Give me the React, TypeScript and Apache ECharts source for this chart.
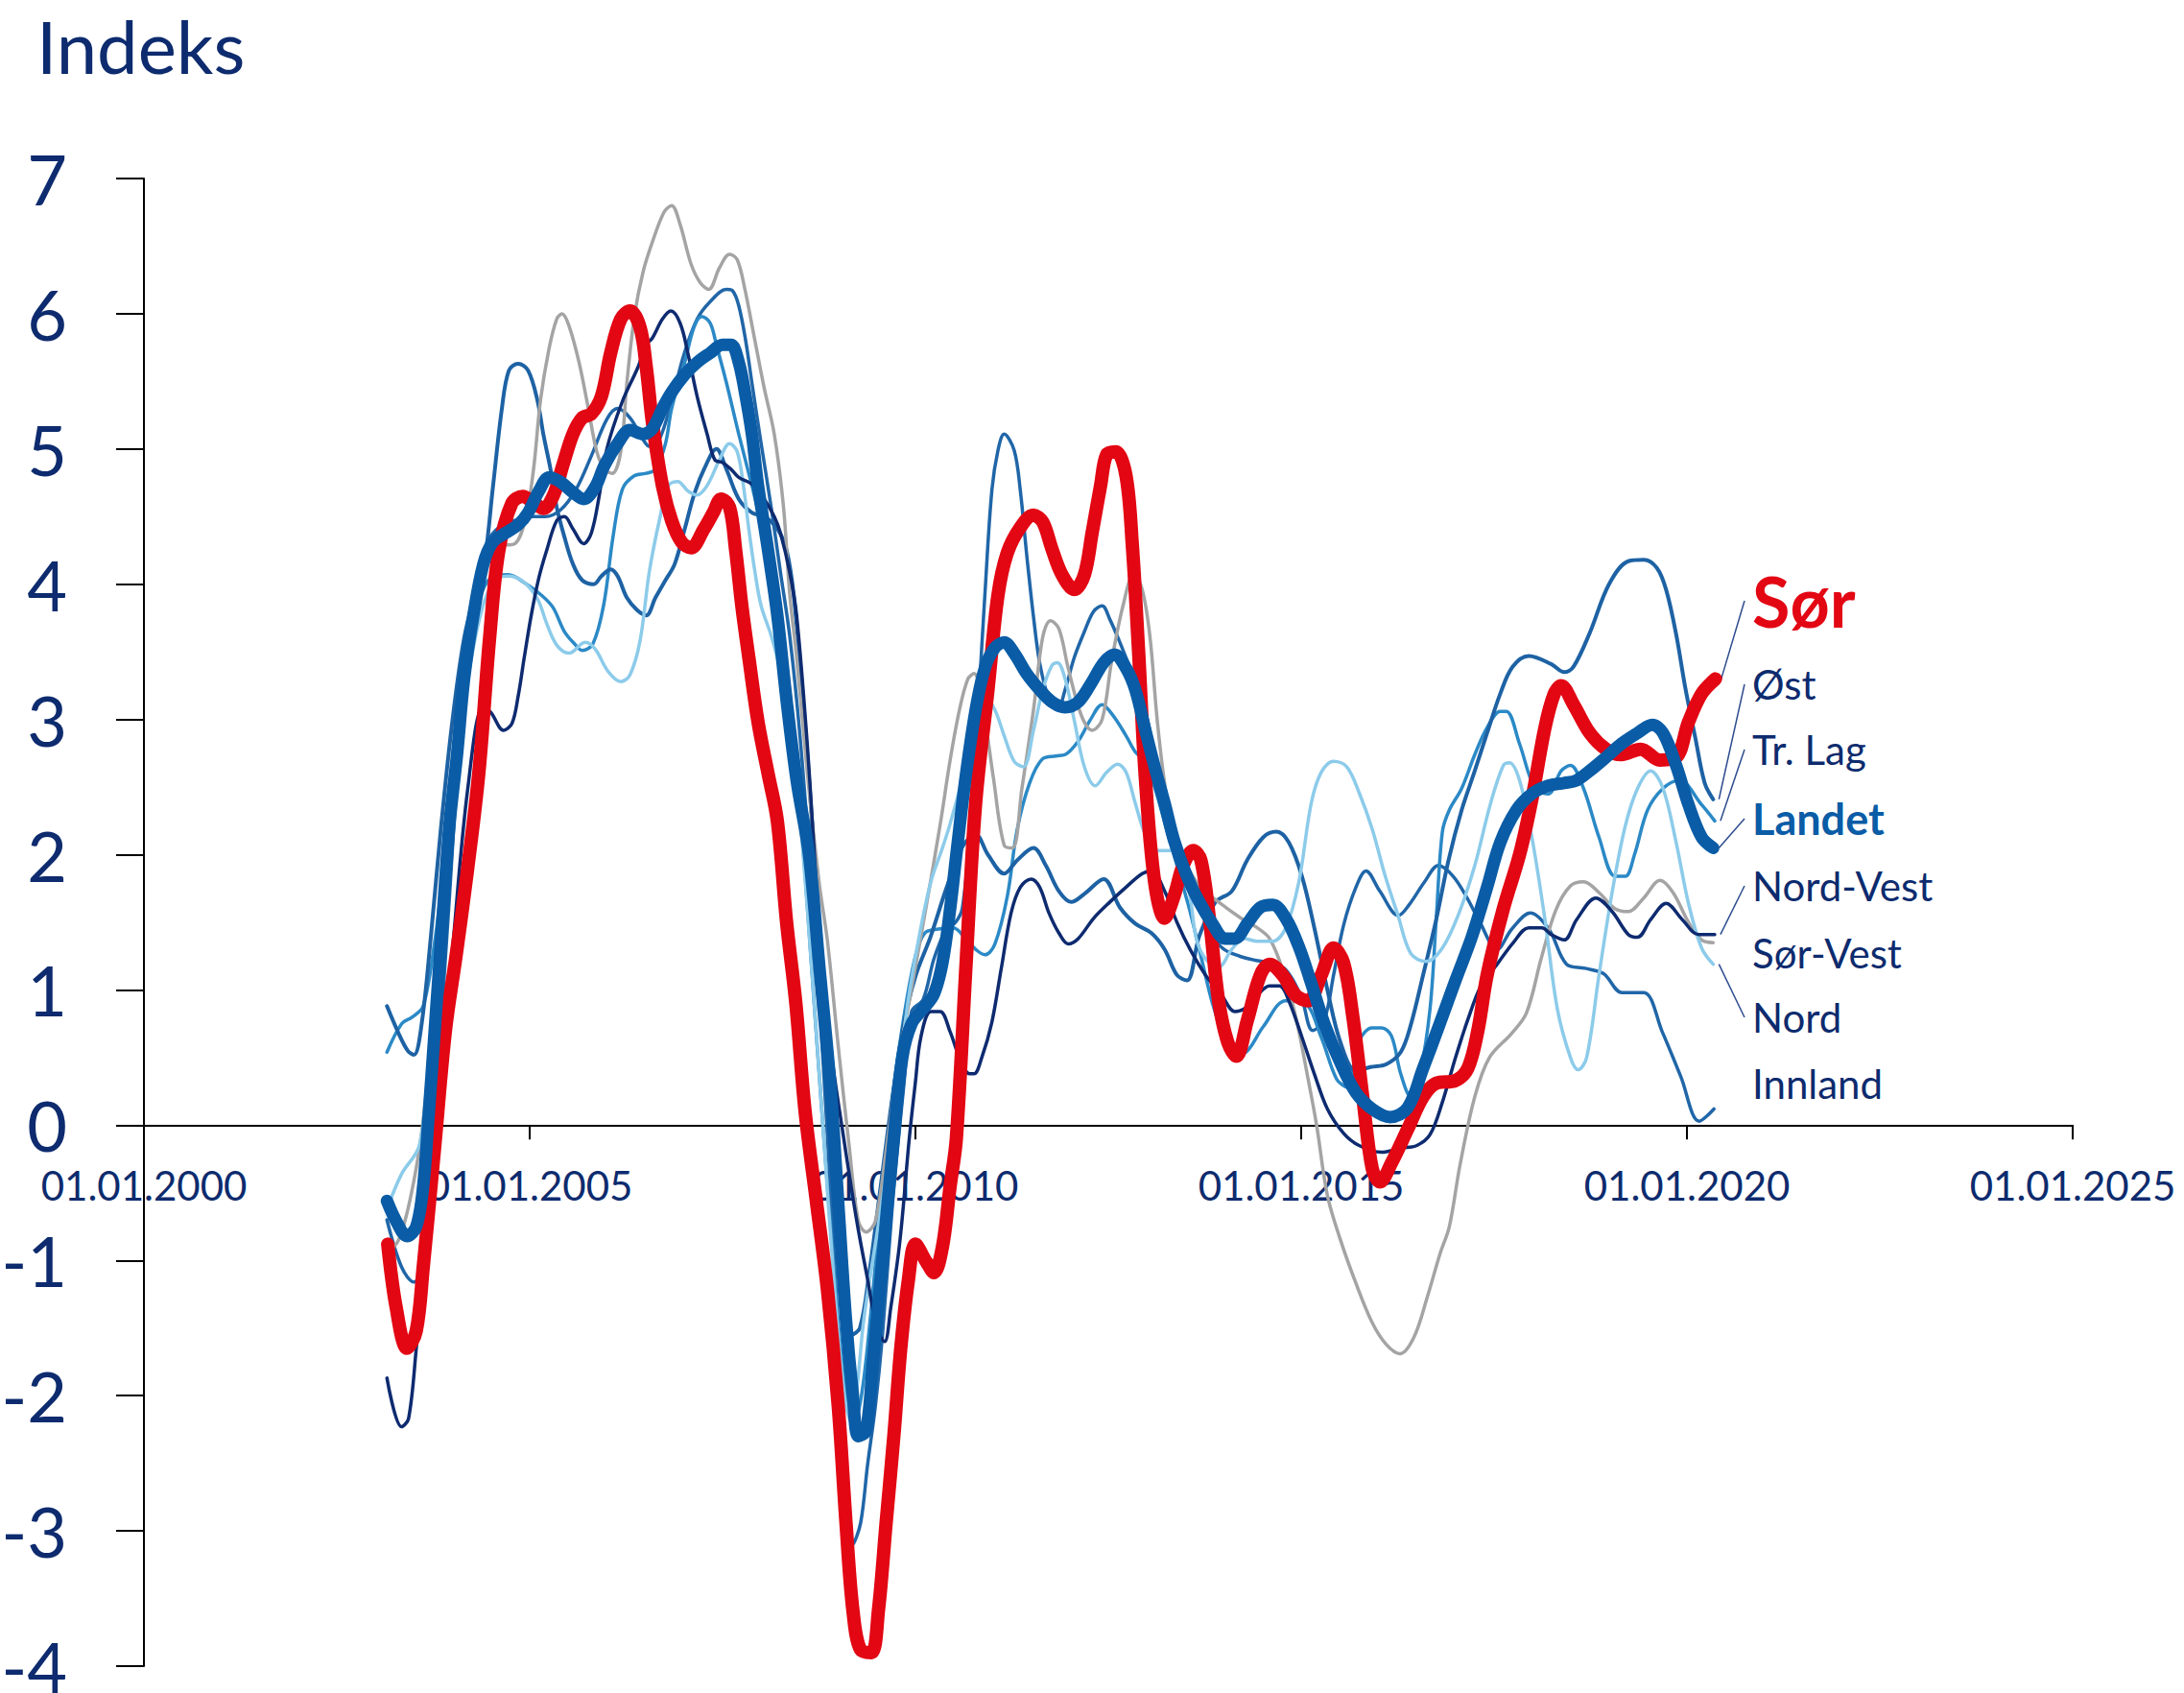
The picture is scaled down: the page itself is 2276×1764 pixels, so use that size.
import React, { useEffect, useRef } from 'react';
import * as echarts from 'echarts';

// ---------- DATA (year as decimal, index value) ----------
const sorData: [number, number][] = [
  [2003.16,-0.88],[2003.27,-1.35],[2003.41,-1.65],[2003.53,-1.52],[2003.62,-1.05],[2003.77,-0.15],[2003.91,0.71],[2004.05,1.27],[2004.19,1.87],[2004.34,2.6],[2004.48,3.6],[2004.6,4.25],[2004.77,4.6],[2004.91,4.65],[2005.06,4.6],[2005.18,4.56],[2005.31,4.66],[2005.43,4.88],[2005.56,5.11],[2005.68,5.23],[2005.8,5.26],[2005.93,5.39],[2006.05,5.71],[2006.18,5.96],[2006.3,6.02],[2006.43,5.9],[2006.51,5.61],[2006.59,5.2],[2006.72,4.73],[2006.84,4.47],[2006.97,4.31],[2007.09,4.27],[2007.26,4.41],[2007.38,4.53],[2007.48,4.63],[2007.59,4.57],[2007.67,4.25],[2007.75,3.84],[2007.84,3.46],[2007.96,2.98],[2008.09,2.6],[2008.21,2.25],[2008.33,1.5],[2008.45,0.9],[2008.57,0.1],[2008.72,-0.58],[2008.86,-1.22],[2009.0,-2.08],[2009.1,-2.94],[2009.19,-3.59],[2009.29,-3.88],[2009.43,-3.9],[2009.52,-3.59],[2009.62,-2.94],[2009.72,-2.3],[2009.81,-1.65],[2009.91,-1.14],[2010.0,-0.88],[2010.14,-1.01],[2010.24,-1.09],[2010.35,-0.9],[2010.45,-0.45],[2010.53,-0.1],[2010.66,1.23],[2010.78,2.38],[2010.94,3.22],[2011.07,3.92],[2011.19,4.23],[2011.36,4.42],[2011.53,4.51],[2011.65,4.46],[2011.77,4.26],[2011.9,4.07],[2012.06,3.96],[2012.19,4.07],[2012.29,4.38],[2012.4,4.73],[2012.48,4.96],[2012.6,4.98],[2012.73,4.8],[2012.81,4.3],[2012.89,3.53],[2012.98,2.57],[2013.1,1.8],[2013.23,1.53],[2013.35,1.69],[2013.47,1.92],[2013.6,2.03],[2013.7,1.96],[2013.81,1.53],[2013.93,0.92],[2014.05,0.61],[2014.16,0.51],[2014.3,0.77],[2014.47,1.11],[2014.59,1.19],[2014.76,1.11],[2014.93,0.96],[2015.09,0.92],[2015.26,1.11],[2015.42,1.31],[2015.55,1.2],[2015.67,0.8],[2015.8,0.2],[2015.92,-0.32],[2016.02,-0.42],[2016.17,-0.28],[2016.38,-0.03],[2016.58,0.21],[2016.75,0.31],[2017.0,0.33],[2017.16,0.42],[2017.29,0.7],[2017.41,1.11],[2017.62,1.6],[2017.83,2.0],[2017.99,2.41],[2018.16,2.94],[2018.28,3.19],[2018.37,3.25],[2018.53,3.11],[2018.74,2.9],[2018.95,2.78],[2019.15,2.74],[2019.4,2.78],[2019.65,2.7],[2019.86,2.72],[2020.02,2.98],[2020.19,3.19],[2020.37,3.3]
];

const landetData: [number, number][] = [
  [2003.15,-0.56],[2003.27,-0.71],[2003.41,-0.82],[2003.53,-0.75],[2003.62,-0.45],[2003.69,0.07],[2003.77,0.71],[2003.86,1.44],[2003.96,2.22],[2004.06,2.75],[2004.15,3.3],[2004.27,3.77],[2004.4,4.15],[2004.52,4.31],[2004.69,4.38],[2004.85,4.44],[2004.98,4.53],[2005.12,4.69],[2005.25,4.79],[2005.39,4.76],[2005.56,4.68],[2005.7,4.63],[2005.85,4.72],[2005.97,4.88],[2006.14,5.04],[2006.3,5.14],[2006.47,5.11],[2006.59,5.15],[2006.72,5.3],[2006.84,5.42],[2007.01,5.55],[2007.17,5.64],[2007.34,5.71],[2007.5,5.77],[2007.61,5.77],[2007.71,5.64],[2007.79,5.42],[2007.88,5.11],[2007.96,4.73],[2008.09,4.25],[2008.21,3.77],[2008.33,3.14],[2008.46,2.55],[2008.62,2.0],[2008.76,1.14],[2008.9,0.28],[2009.0,-0.58],[2009.1,-1.44],[2009.19,-2.0],[2009.26,-2.3],[2009.36,-2.26],[2009.45,-1.74],[2009.57,-1.01],[2009.71,-0.15],[2009.83,0.5],[2009.95,0.75],[2010.1,0.86],[2010.24,0.97],[2010.35,1.2],[2010.45,1.6],[2010.53,2.0],[2010.65,2.57],[2010.78,3.07],[2010.9,3.38],[2011.03,3.53],[2011.15,3.57],[2011.28,3.49],[2011.44,3.34],[2011.61,3.22],[2011.77,3.13],[2011.94,3.09],[2012.11,3.13],[2012.27,3.26],[2012.44,3.42],[2012.58,3.48],[2012.73,3.38],[2012.85,3.22],[2012.98,2.92],[2013.1,2.65],[2013.23,2.38],[2013.35,2.11],[2013.52,1.84],[2013.68,1.65],[2013.85,1.49],[2014.01,1.38],[2014.14,1.38],[2014.3,1.49],[2014.47,1.61],[2014.63,1.63],[2014.8,1.53],[2014.97,1.32],[2015.13,1.05],[2015.3,0.75],[2015.51,0.46],[2015.71,0.24],[2015.92,0.12],[2016.15,0.06],[2016.38,0.13],[2016.58,0.42],[2016.79,0.74],[2017.0,1.07],[2017.21,1.39],[2017.41,1.76],[2017.58,2.09],[2017.79,2.33],[2017.99,2.45],[2018.2,2.51],[2018.41,2.53],[2018.57,2.55],[2018.74,2.62],[2018.95,2.72],[2019.15,2.82],[2019.36,2.9],[2019.55,2.96],[2019.69,2.9],[2019.86,2.66],[2020.02,2.37],[2020.19,2.13],[2020.34,2.05]
];

const ostData: [number, number][] = [
  [2003.15,0.88],[2003.3,0.68],[2003.42,0.55],[2003.5,0.52],[2003.6,0.75],[2003.72,1.4],[2003.85,2.2],[2004.0,3.0],[2004.15,3.6],[2004.3,3.95],[2004.42,4.2],[2004.52,4.7],[2004.64,5.3],[2004.73,5.58],[2004.85,5.63],[2004.98,5.58],[2005.1,5.36],[2005.18,5.1],[2005.27,4.85],[2005.35,4.57],[2005.45,4.35],[2005.56,4.15],[2005.68,4.03],[2005.83,4.0],[2005.93,4.06],[2006.05,4.11],[2006.14,4.06],[2006.26,3.9],[2006.39,3.81],[2006.51,3.77],[2006.63,3.9],[2006.76,4.03],[2006.88,4.15],[2007.01,4.41],[2007.13,4.66],[2007.26,4.85],[2007.42,5.0],[2007.55,4.85],[2007.71,4.63],[2007.88,4.53],[2008.04,4.5],[2008.21,4.41],[2008.33,4.25],[2008.42,3.93],[2008.55,3.1],[2008.7,1.9],[2008.85,0.5],[2009.0,-0.8],[2009.1,-1.4],[2009.17,-1.55],[2009.28,-1.5],[2009.4,-1.1],[2009.55,-0.45],[2009.7,0.2],[2009.85,0.75],[2010.0,1.1],[2010.2,1.4],[2010.4,1.75],[2010.6,2.05],[2010.78,2.15],[2010.94,2.0],[2011.15,1.86],[2011.32,1.96],[2011.53,2.05],[2011.69,1.92],[2011.86,1.73],[2012.02,1.65],[2012.19,1.71],[2012.44,1.82],[2012.65,1.61],[2012.85,1.49],[2013.06,1.42],[2013.23,1.3],[2013.39,1.11],[2013.52,1.07],[2013.68,1.4],[2013.89,1.65],[2014.1,1.73],[2014.3,1.96],[2014.51,2.13],[2014.68,2.17],[2014.84,2.09],[2015.01,1.84],[2015.17,1.46],[2015.34,1.0],[2015.51,0.61],[2015.71,0.4],[2015.9,0.43],[2016.1,0.45],[2016.29,0.54],[2016.42,0.74],[2016.58,1.11],[2016.75,1.52],[2016.91,1.96],[2017.08,2.33],[2017.25,2.62],[2017.41,2.9],[2017.58,3.19],[2017.74,3.39],[2017.95,3.47],[2018.24,3.41],[2018.41,3.35],[2018.53,3.39],[2018.74,3.64],[2018.99,4.0],[2019.24,4.17],[2019.44,4.18],[2019.61,4.12],[2019.73,3.96],[2019.86,3.63],[2019.98,3.23],[2020.11,2.86],[2020.23,2.53],[2020.34,2.41]
];

const trLagData: [number, number][] = [
  [2003.15,0.54],[2003.34,0.75],[2003.48,0.8],[2003.62,0.88],[2003.77,1.36],[2003.86,1.79],[2004.0,2.6],[2004.15,3.3],[2004.3,3.8],[2004.5,4.05],[2004.72,4.07],[2004.96,4.0],[2005.15,3.92],[2005.3,3.83],[2005.45,3.65],[2005.58,3.56],[2005.68,3.51],[2005.82,3.56],[2005.96,3.85],[2006.08,4.35],[2006.2,4.7],[2006.35,4.8],[2006.51,4.82],[2006.63,4.85],[2006.76,5.04],[2006.84,5.3],[2007.01,5.64],[2007.13,5.9],[2007.23,5.98],[2007.34,5.93],[2007.42,5.77],[2007.55,5.49],[2007.71,5.11],[2007.88,4.73],[2008.04,4.35],[2008.21,3.93],[2008.35,3.3],[2008.5,2.4],[2008.65,1.2],[2008.8,0.0],[2008.95,-1.1],[2009.08,-1.9],[2009.2,-2.2],[2009.3,-2.0],[2009.42,-1.4],[2009.55,-0.6],[2009.7,0.2],[2009.85,0.8],[2010.0,1.25],[2010.12,1.42],[2010.3,1.45],[2010.49,1.46],[2010.65,1.38],[2010.78,1.3],[2010.9,1.26],[2011.03,1.34],[2011.19,1.69],[2011.32,2.19],[2011.48,2.53],[2011.65,2.71],[2011.82,2.73],[2011.94,2.74],[2012.11,2.84],[2012.27,3.0],[2012.42,3.11],[2012.56,3.03],[2012.73,2.88],[2012.85,2.76],[2012.98,2.69],[2013.1,2.5],[2013.25,2.2],[2013.4,1.9],[2013.55,1.6],[2013.7,1.25],[2013.85,0.9],[2014.0,0.65],[2014.12,0.52],[2014.26,0.53],[2014.51,0.73],[2014.8,0.92],[2015.05,0.9],[2015.26,0.65],[2015.46,0.34],[2015.6,0.28],[2015.75,0.62],[2015.92,0.72],[2016.04,0.72],[2016.17,0.66],[2016.29,0.38],[2016.42,0.21],[2016.54,0.38],[2016.67,0.86],[2016.75,1.52],[2016.83,2.17],[2016.92,2.33],[2017.08,2.49],[2017.25,2.74],[2017.41,2.94],[2017.58,3.06],[2017.66,3.06],[2017.83,2.82],[2018.03,2.49],[2018.2,2.45],[2018.37,2.62],[2018.49,2.66],[2018.66,2.49],[2018.86,2.13],[2019.07,1.84],[2019.2,1.84],[2019.32,2.0],[2019.49,2.33],[2019.69,2.49],[2019.9,2.55],[2020.19,2.37],[2020.36,2.25]
];

const nordVestData: [number, number][] = [
  [2003.15,-1.87],[2003.34,-2.23],[2003.43,-2.17],[2003.53,-1.65],[2003.75,-0.3],[2004.0,1.3],[2004.2,2.5],[2004.4,3.1],[2004.5,3.05],[2004.66,2.92],[2004.77,2.97],[2004.85,3.17],[2004.93,3.46],[2005.02,3.77],[2005.12,4.05],[2005.22,4.25],[2005.35,4.47],[2005.45,4.5],[2005.56,4.41],[2005.7,4.3],[2005.8,4.38],[2005.9,4.65],[2006.0,5.0],[2006.2,5.35],[2006.4,5.6],[2006.51,5.77],[2006.59,5.82],[2006.72,5.96],[2006.83,6.02],[2006.95,5.93],[2007.05,5.71],[2007.17,5.39],[2007.3,5.11],[2007.4,4.92],[2007.5,4.9],[2007.61,4.85],[2007.71,4.79],[2007.88,4.74],[2008.04,4.63],[2008.17,4.5],[2008.25,4.38],[2008.37,4.09],[2008.46,3.77],[2008.6,2.8],[2008.75,1.5],[2008.9,0.58],[2009.05,-0.02],[2009.24,-0.71],[2009.38,-1.14],[2009.5,-1.5],[2009.6,-1.6],[2009.68,-1.35],[2009.8,-0.85],[2009.92,-0.1],[2010.0,0.32],[2010.07,0.65],[2010.2,0.84],[2010.32,0.84],[2010.45,0.69],[2010.57,0.5],[2010.7,0.38],[2010.76,0.38],[2010.86,0.5],[2010.99,0.76],[2011.11,1.15],[2011.24,1.57],[2011.36,1.76],[2011.5,1.82],[2011.61,1.76],[2011.73,1.57],[2011.86,1.42],[2011.98,1.34],[2012.11,1.38],[2012.31,1.53],[2012.52,1.65],[2012.73,1.76],[2012.94,1.86],[2013.06,1.88],[2013.23,1.73],[2013.39,1.5],[2013.56,1.3],[2013.76,1.11],[2013.97,0.96],[2014.14,0.84],[2014.26,0.86],[2014.43,0.96],[2014.59,1.03],[2014.72,1.03],[2014.84,0.92],[2015.01,0.65],[2015.17,0.38],[2015.34,0.12],[2015.55,-0.06],[2015.75,-0.15],[2016.04,-0.2],[2016.29,-0.17],[2016.5,-0.15],[2016.67,-0.07],[2016.83,0.17],[2017.0,0.5],[2017.16,0.78],[2017.33,1.03],[2017.54,1.19],[2017.75,1.35],[2017.95,1.46],[2018.12,1.46],[2018.24,1.41],[2018.41,1.37],[2018.57,1.52],[2018.82,1.68],[2019.03,1.58],[2019.24,1.41],[2019.36,1.39],[2019.53,1.52],[2019.73,1.64],[2019.94,1.52],[2020.15,1.41],[2020.36,1.41]
];

const sorVestData: [number, number][] = [
  [2003.15,-0.95],[2003.3,-0.85],[2003.45,-0.55],[2003.6,-0.05],[2003.75,0.8],[2003.9,1.8],[2004.05,2.8],[2004.2,3.6],[2004.4,4.1],[2004.6,4.28],[2004.81,4.3],[2004.95,4.5],[2005.05,4.85],[2005.14,5.36],[2005.25,5.74],[2005.35,5.96],[2005.42,6.0],[2005.51,5.91],[2005.64,5.64],[2005.76,5.3],[2005.87,4.98],[2005.97,4.85],[2006.07,4.82],[2006.18,4.98],[2006.26,5.49],[2006.36,5.99],[2006.47,6.31],[2006.59,6.53],[2006.74,6.75],[2006.84,6.8],[2006.95,6.66],[2007.09,6.37],[2007.21,6.23],[2007.32,6.18],[2007.46,6.34],[2007.59,6.44],[2007.69,6.4],[2007.79,6.18],[2007.92,5.8],[2008.04,5.45],[2008.17,5.11],[2008.29,4.57],[2008.37,3.93],[2008.46,3.46],[2008.6,2.6],[2008.75,1.8],[2008.86,1.36],[2009.0,0.58],[2009.14,-0.15],[2009.26,-0.71],[2009.36,-0.79],[2009.48,-0.71],[2009.62,-0.19],[2009.76,0.41],[2009.95,1.01],[2010.14,1.62],[2010.32,2.22],[2010.45,2.7],[2010.57,3.07],[2010.68,3.3],[2010.76,3.34],[2010.88,3.07],[2011.01,2.57],[2011.15,2.07],[2011.26,2.05],[2011.38,2.49],[2011.53,3.07],[2011.65,3.61],[2011.75,3.73],[2011.86,3.67],[2011.98,3.38],[2012.15,3.03],[2012.29,2.92],[2012.42,3.0],[2012.54,3.42],[2012.69,3.84],[2012.83,4.07],[2012.94,3.96],[2013.04,3.61],[2013.14,2.96],[2013.27,2.38],[2013.43,2.03],[2013.68,1.77],[2013.93,1.65],[2014.22,1.53],[2014.43,1.46],[2014.59,1.38],[2014.76,1.15],[2014.93,0.8],[2015.09,0.34],[2015.2,0.0],[2015.34,-0.52],[2015.51,-0.85],[2015.71,-1.17],[2015.92,-1.46],[2016.1,-1.62],[2016.28,-1.69],[2016.46,-1.57],[2016.64,-1.26],[2016.8,-0.95],[2016.92,-0.75],[2017.06,-0.29],[2017.25,0.21],[2017.44,0.5],[2017.73,0.68],[2017.92,0.83],[2018.11,1.23],[2018.3,1.59],[2018.49,1.77],[2018.66,1.8],[2018.86,1.72],[2019.07,1.6],[2019.24,1.58],[2019.44,1.68],[2019.65,1.81],[2019.82,1.72],[2020.02,1.5],[2020.19,1.37],[2020.34,1.35]
];

const nordData: [number, number][] = [
  [2003.15,-0.62],[2003.34,-0.36],[2003.57,-0.15],[2003.7,0.5],[2003.85,1.4],[2004.0,2.4],[2004.2,3.3],[2004.4,3.85],[2004.6,4.05],[2004.73,4.06],[2004.89,4.03],[2005.02,3.96],[2005.12,3.87],[2005.22,3.71],[2005.35,3.55],[2005.51,3.49],[2005.72,3.57],[2005.85,3.52],[2006.01,3.36],[2006.18,3.28],[2006.3,3.33],[2006.43,3.58],[2006.55,4.09],[2006.68,4.47],[2006.8,4.73],[2006.92,4.76],[2007.05,4.69],[2007.17,4.66],[2007.3,4.73],[2007.46,4.92],[2007.59,5.04],[2007.69,4.98],[2007.77,4.73],[2007.84,4.41],[2007.92,4.09],[2008.0,3.84],[2008.13,3.62],[2008.25,3.36],[2008.37,2.98],[2008.5,2.3],[2008.65,1.2],[2008.8,0.0],[2008.95,-1.2],[2009.08,-2.0],[2009.17,-2.2],[2009.25,-1.9],[2009.33,-1.44],[2009.48,-0.88],[2009.62,-0.36],[2009.76,0.24],[2009.9,0.9],[2010.05,1.4],[2010.2,1.8],[2010.35,2.05],[2010.45,2.23],[2010.61,2.57],[2010.74,2.99],[2010.82,3.15],[2010.92,3.15],[2011.03,3.07],[2011.15,2.88],[2011.28,2.69],[2011.4,2.65],[2011.53,2.92],[2011.65,3.22],[2011.77,3.4],[2011.84,3.42],[2011.94,3.3],[2012.06,2.99],[2012.19,2.65],[2012.33,2.51],[2012.48,2.61],[2012.62,2.67],[2012.73,2.61],[2012.85,2.38],[2012.98,2.15],[2013.14,2.03],[2013.31,2.03],[2013.43,2.0],[2013.56,1.69],[2013.64,1.38],[2013.76,1.23],[2013.93,1.17],[2014.1,1.3],[2014.26,1.38],[2014.43,1.36],[2014.63,1.36],[2014.8,1.46],[2014.97,1.8],[2015.13,2.38],[2015.26,2.61],[2015.42,2.69],[2015.59,2.65],[2015.75,2.46],[2015.92,2.19],[2016.09,1.84],[2016.25,1.56],[2016.42,1.27],[2016.62,1.21],[2016.83,1.31],[2017.04,1.56],[2017.25,1.92],[2017.45,2.37],[2017.62,2.66],[2017.7,2.68],[2017.83,2.55],[2017.99,2.13],[2018.16,1.52],[2018.32,0.86],[2018.49,0.5],[2018.59,0.41],[2018.7,0.5],[2018.86,1.11],[2019.03,1.72],[2019.2,2.21],[2019.36,2.49],[2019.53,2.62],[2019.69,2.49],[2019.86,2.09],[2020.02,1.64],[2020.19,1.31],[2020.34,1.19]
];

const innlandData: [number, number][] = [
  [2003.15,-0.7],[2003.34,-1.05],[2003.5,-1.16],[2003.62,-1.05],[2003.69,-0.71],[2003.8,0.3],[2003.95,1.6],[2004.1,2.9],[2004.25,3.7],[2004.45,4.3],[2004.6,4.42],[2004.8,4.47],[2005.0,4.5],[2005.2,4.5],[2005.4,4.55],[2005.6,4.7],[2005.8,4.95],[2006.0,5.22],[2006.14,5.3],[2006.3,5.23],[2006.47,5.07],[2006.55,5.02],[2006.68,5.07],[2006.84,5.36],[2007.0,5.7],[2007.17,5.96],[2007.34,6.09],[2007.55,6.18],[2007.63,6.17],[2007.71,6.06],[2007.8,5.8],[2007.88,5.49],[2008.0,5.04],[2008.13,4.57],[2008.25,4.09],[2008.37,3.62],[2008.5,2.9],[2008.65,1.8],[2008.8,0.5],[2008.95,-1.0],[2009.07,-2.3],[2009.19,-3.1],[2009.29,-2.94],[2009.38,-2.51],[2009.48,-2.08],[2009.57,-1.57],[2009.7,-0.6],[2009.85,0.3],[2009.95,0.84],[2010.1,0.93],[2010.24,1.23],[2010.4,1.45],[2010.52,1.5],[2010.61,1.61],[2010.74,2.38],[2010.82,3.15],[2010.9,3.92],[2010.99,4.69],[2011.07,4.99],[2011.15,5.11],[2011.28,4.99],[2011.36,4.69],[2011.44,4.23],[2011.53,3.76],[2011.61,3.42],[2011.73,3.15],[2011.84,3.07],[2011.94,3.22],[2012.06,3.46],[2012.19,3.65],[2012.31,3.8],[2012.42,3.84],[2012.52,3.74],[2012.65,3.57],[2012.81,3.34],[2012.94,3.15],[2013.1,2.75],[2013.25,2.35],[2013.4,2.05],[2013.55,1.85],[2013.7,1.6],[2013.85,1.4],[2014.0,1.3],[2014.2,1.25],[2014.4,1.22],[2014.6,1.2],[2014.8,1.15],[2015.0,0.95],[2015.15,0.7],[2015.3,0.78],[2015.42,1.11],[2015.55,1.48],[2015.71,1.76],[2015.84,1.88],[2016.02,1.73],[2016.26,1.55],[2016.4,1.63],[2016.6,1.8],[2016.78,1.92],[2016.97,1.84],[2017.15,1.68],[2017.3,1.52],[2017.54,1.3],[2017.73,1.45],[2017.97,1.57],[2018.21,1.45],[2018.44,1.19],[2018.68,1.16],[2018.92,1.12],[2019.16,0.98],[2019.44,0.98],[2019.68,0.69],[2019.92,0.36],[2020.16,0.03],[2020.35,0.12]
];

const xTickPrefix = '01.01.';
const Y_MIN = -4;
const Y_MAX = 7;

// ---------- STYLE / LAYOUT ----------
const NAVY = '#0d2b6e';
const RED = '#e30613';
const LANDET_BLUE = '#0a5ca6';
const LABEL_X = 1826;
const GRID = { left: 150, right: 116, top: 186, bottom: 28 };
const CHART_H = 1764;
const gridHeight = CHART_H - GRID.top - GRID.bottom;
// place the x axis (line, ticks, labels) on the y = 0 level
const xAxisOffset = -gridHeight * (0 - Y_MIN) / (Y_MAX - Y_MIN);

const seriesDefs = [
  { name: 'Innland', data: innlandData, color: '#2066a8', width: 3.5 },
  { name: 'Tr. Lag', data: trLagData, color: '#2b89c6', width: 3.5 },
  { name: 'Øst', data: ostData, color: '#1d62a4', width: 4 },
  { name: 'Sør-Vest', data: sorVestData, color: '#a4a4a4', width: 3.5 },
  { name: 'Nord', data: nordData, color: '#8ccbea', width: 3.5 },
  { name: 'Nord-Vest', data: nordVestData, color: '#0e2b70', width: 3.5 },
  { name: 'Sør', data: sorData, color: RED, width: 14 },
  { name: 'Landet', data: landetData, color: LANDET_BLUE, width: 13 },
];

const labelItems = [
  { text: 'Sør', series: 'Sør', y: 626, size: 72, weight: 'bold', color: RED, connector: true },
  { text: 'Øst', series: 'Øst', y: 713, size: 42, weight: 'normal', color: NAVY, connector: true },
  { text: 'Tr. Lag', series: 'Tr. Lag', y: 781, size: 42, weight: 'normal', color: NAVY, connector: true },
  { text: 'Landet', series: 'Landet', y: 853, size: 45, weight: 'bold', color: LANDET_BLUE, connector: true },
  { text: 'Nord-Vest', series: 'Nord-Vest', y: 923, size: 42, weight: 'normal', color: NAVY, connector: true },
  { text: 'Sør-Vest', series: 'Sør-Vest', y: 993, size: 42, weight: 'normal', color: NAVY, connector: false },
  { text: 'Nord', series: 'Nord', y: 1060, size: 42, weight: 'normal', color: NAVY, connector: true },
  { text: 'Innland', series: 'Innland', y: 1129, size: 42, weight: 'normal', color: NAVY, connector: false },
];

export default function App() {
  const ref = useRef<HTMLDivElement>(null);

  useEffect(() => {
    if (!ref.current) return;
    const chart = echarts.init(ref.current, null, { renderer: 'svg' });

    chart.setOption({
      animation: false,
      backgroundColor: '#ffffff',
      grid: { ...GRID, containLabel: false, outerBoundsMode: 'none' },
      xAxis: {
        type: 'value',
        position: 'bottom',
        offset: xAxisOffset,
        min: 2000,
        max: 2025,
        interval: 5,
        axisLine: { show: true, onZero: false, lineStyle: { color: '#000000', width: 2 } },
        axisTick: { show: true, inside: false, length: 15, lineStyle: { color: '#000000', width: 2 } },
        axisLabel: {
          formatter: (v: number) => xTickPrefix + v,
          fontFamily: 'Lato',
          fontSize: 42,
          color: NAVY,
          margin: 42,
          showMinLabel: true,
          showMaxLabel: true,
          hideOverlap: false,
        },
        splitLine: { show: false },
      },
      yAxis: {
        type: 'value',
        min: Y_MIN,
        max: Y_MAX,
        interval: 1,
        axisLine: { show: true, onZero: false, lineStyle: { color: '#000000', width: 2 } },
        axisTick: { show: true, inside: false, length: 29, lineStyle: { color: '#000000', width: 2 } },
        axisLabel: { fontFamily: 'Lato', fontSize: 72, lineHeight: 52, color: NAVY, margin: 80 },
        splitLine: { show: false },
      },
      series: seriesDefs.map((s, i) => ({
        name: s.name,
        type: 'line',
        data: s.data,
        showSymbol: false,
        symbol: 'none',
        smooth: 0.35,
        silent: true,
        z: 2 + i,
        lineStyle: { color: s.color, width: s.width, cap: 'round', join: 'round' },
        itemStyle: { color: s.color },
        emphasis: { disabled: true },
      })),
    });

    const graphics: any[] = [
      {
        type: 'text',
        x: 38,
        y: 47,
        style: { text: 'Indeks', fontFamily: 'Lato', fontSize: 76, fill: NAVY, verticalAlign: 'middle', align: 'left' },
      },
    ];
    labelItems.forEach((item) => {
      graphics.push({
        type: 'text',
        x: LABEL_X,
        y: item.y,
        style: {
          text: item.text,
          fontFamily: 'Lato',
          fontSize: item.size,
          fontWeight: item.weight,
          fill: item.color,
          verticalAlign: 'middle',
          align: 'left',
        },
      });
      if (item.connector) {
        const def = seriesDefs.find((d) => d.name === item.series)!;
        const last = def.data[def.data.length - 1];
        const p = chart.convertToPixel({ gridIndex: 0 }, last) as number[];
        graphics.push({
          type: 'line',
          shape: { x1: p[0] + 6, y1: p[1], x2: LABEL_X - 8, y2: item.y },
          style: { stroke: '#2d4c8e', lineWidth: 1.5 },
        });
      }
    });
    chart.setOption({ graphic: graphics });

    return () => chart.dispose();
  }, []);

  return (
    <div
      ref={ref}
      style={{ position: 'fixed', left: 0, top: 0, width: 2276, height: CHART_H, background: '#ffffff' }}
    />
  );
}
